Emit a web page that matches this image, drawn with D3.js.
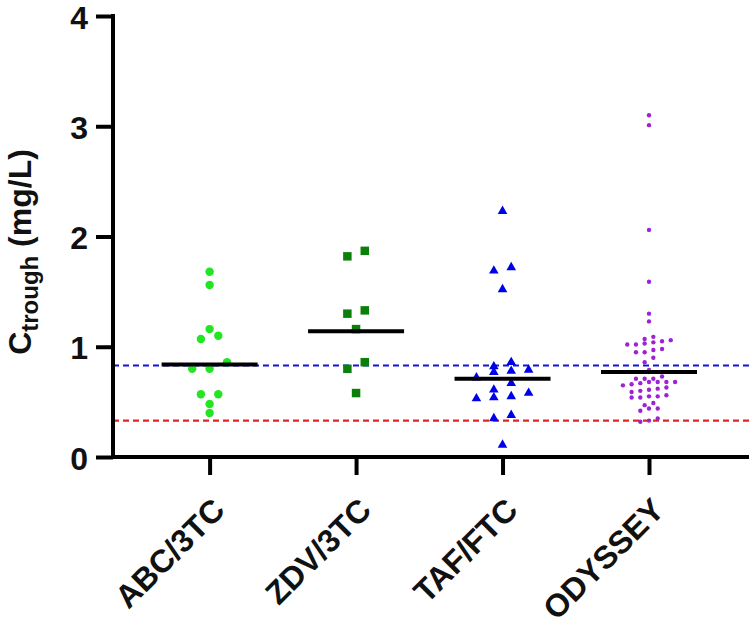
<!DOCTYPE html>
<html>
<head>
<meta charset="utf-8">
<script src="https://cdn.jsdelivr.net/npm/d3@7"></script>
<style>
  html, body { margin: 0; padding: 0; background: #fff; }
  svg { display: block; }
  text { font-family: "Liberation Sans", Arial, sans-serif; font-weight: bold; }
</style>
</head>
<body>
<svg id="chart" width="749" height="628"></svg>
<script>
// ---- data ----
const categories = ["ABC/3TC", "ZDV/3TC", "TAF/FTC", "ODYSSEY"];
const abcValues = [1.68, 1.56, 1.16, 1.10, 1.07, 0.86, 0.80, 0.80, 0.57, 0.57, 0.48, 0.40];
const zdvValues = [1.87, 1.82, 1.33, 1.30, 1.16, 0.86, 0.80, 0.58];
const tafValues = [2.23, 1.72, 1.69, 1.52, 0.86, 0.82, 0.79, 0.78, 0.77, 0.72, 0.67, 0.61, 0.58, 0.55, 0.54, 0.53, 0.38, 0.35, 0.11];
const odysseyValues = [3.10, 3.01, 2.06, 1.59, 1.30, 1.23, 1.09, 1.07, 1.06, 1.05, 1.04, 1.03, 1.02, 1.02,
  0.98, 0.97, 0.95, 0.95, 0.90, 0.86, 0.79, 0.73, 0.71, 0.71, 0.71, 0.68, 0.68, 0.68, 0.68, 0.67, 0.66,
  0.65, 0.63, 0.62, 0.61, 0.60, 0.59, 0.56, 0.55, 0.55, 0.54, 0.54, 0.49, 0.47, 0.44, 0.44, 0.42,
  0.35, 0.33, 0.32];
const medians = [0.84, 1.14, 0.71, 0.77];
const thresholdValues = [0.83, 0.33];
const yTicks = [0, 1, 2, 3, 4];

// ---- styles ----
const seriesValues = [abcValues, zdvValues, tafValues, odysseyValues];
const seriesStyle = [
  { color: "#22e622", symbol: d3.symbolCircle, size: 56, rowH: 8.7, spacing: 17.4 },
  { color: "#0a800a", symbol: d3.symbolSquare, size: 72, rowH: 8.7, spacing: 17.4 },
  { color: "#0000e8", symbol: d3.symbolTriangle, size: 40, rowH: 8.7, spacing: 17.4 },
  { color: "#a020d6", symbol: d3.symbolCircle, size: 15, rowH: 5, spacing: 8.7 }
];
const thresholdColors = ["#1414d8", "#e02424"];

const svg = d3.select("#chart");
const axisX = 113, axisY = 457;

const y = d3.scaleLinear().domain([0, 4]).range([axisY, 16]);
const x = d3.scalePoint().domain(categories).range([209.6, 649]);

// threshold dashed lines
svg.selectAll("line.thr").data(thresholdValues).join("line")
  .attr("class", "thr")
  .attr("x1", axisX).attr("x2", 749)
  .attr("y1", d => y(d)).attr("y2", d => y(d))
  .attr("stroke", (d, i) => thresholdColors[i])
  .attr("stroke-width", 2.2)
  .attr("stroke-dasharray", "6,4");

// row-based scatter layout (Prism-like)
function layout(values, rowH, spacing) {
  const idx = values.map((v, i) => i).sort((a, b) => values[a] - values[b]);
  const out = new Array(values.length);
  let i = 0;
  while (i < idx.length) {
    const y0 = y(values[idx[i]]);
    const row = [idx[i]];
    let j = i + 1;
    while (j < idx.length && Math.abs(y(values[idx[j]]) - y0) < rowH) { row.push(idx[j]); j++; }
    row.forEach((k, r) => { out[k] = (r - (row.length - 1) / 2) * spacing; });
    i = j;
  }
  return out;
}

categories.forEach((cat, ci) => {
  const vals = seriesValues[ci];
  const st = seriesStyle[ci];
  const offs = layout(vals, st.rowH, st.spacing);
  const sym = d3.symbol().type(st.symbol).size(st.size);
  svg.append("g").selectAll("path").data(vals).join("path")
    .attr("d", sym)
    .attr("transform", (d, i) => `translate(${x(cat) + offs[i]},${y(d)})`)
    .attr("fill", st.color);
});

// median lines
svg.selectAll("line.med").data(medians).join("line")
  .attr("class", "med")
  .attr("x1", (d, i) => x(categories[i]) - 48)
  .attr("x2", (d, i) => x(categories[i]) + 48)
  .attr("y1", d => y(d)).attr("y2", d => y(d))
  .attr("stroke", "#000").attr("stroke-width", 4);

// y axis
const yAxis = d3.axisLeft(y).tickValues(yTicks).tickFormat(d3.format("d")).tickSize(17).tickPadding(8);
const gy = svg.append("g").attr("transform", `translate(${axisX},0)`).call(yAxis);
gy.select(".domain").attr("stroke", "#000").attr("stroke-width", 4).attr("d", `M0,${y(4) - 2}V${axisY + 2}`);
gy.selectAll(".tick line").attr("stroke", "#000").attr("stroke-width", 4);
gy.selectAll(".tick text").attr("font-size", 32).attr("fill", "#111").attr("dy", "0.38em");

// x axis
const xAxis = d3.axisBottom(x).tickSize(18).tickFormat("");
const gx = svg.append("g").attr("transform", `translate(0,${axisY})`).call(xAxis);
gx.select(".domain").attr("stroke", "#000").attr("stroke-width", 4).attr("d", `M${axisX - 2},0H749`);
gx.selectAll(".tick line").attr("stroke", "#000").attr("stroke-width", 4);

svg.append("g").selectAll("text").data(categories).join("text")
  .attr("transform", d => `translate(${x(d) + 17},512) rotate(-45)`)
  .attr("text-anchor", "end")
  .attr("font-size", 32)
  .attr("fill", "#111")
  .text(d => d);

// y axis label
const yl = svg.append("text")
  .attr("transform", "translate(31,252) rotate(-90)")
  .attr("text-anchor", "middle")
  .attr("font-size", 32)
  .attr("fill", "#111");
yl.append("tspan").text("C");
yl.append("tspan").attr("font-size", 24).attr("dy", 7).text("trough");
yl.append("tspan").attr("dy", -7).text(" (mg/L)");
</script>
</body>
</html>
